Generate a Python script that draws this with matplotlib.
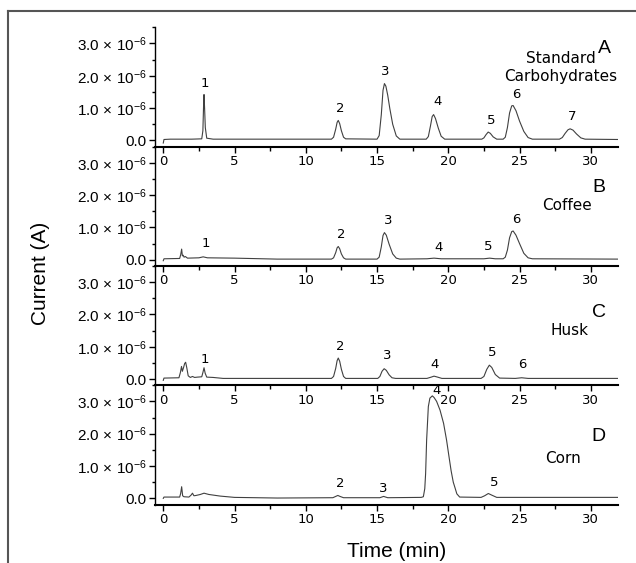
import numpy as np
import matplotlib
matplotlib.use("Agg")
import matplotlib.pyplot as plt
from matplotlib.lines import Line2D
from matplotlib.ticker import FixedLocator, FuncFormatter

plt.rcParams['font.family'] = ['Liberation Sans', 'DejaVu Sans']
plt.rcParams['mathtext.fontset'] = 'custom'
plt.rcParams['mathtext.rm'] = 'Liberation Sans'
plt.rcParams['mathtext.it'] = 'Liberation Sans'

# chromatogram traces, time in min, current in 1e-6 A
t_std = [0.0, 0.05, 0.5, 2.0, 2.7, 2.78, 2.83, 2.86, 2.9, 2.95, 3.05, 3.5, 8.0,
         11.8, 11.95, 12.1, 12.2, 12.28, 12.38, 12.5, 12.65, 12.8,
         15.0, 15.15, 15.3, 15.42, 15.52, 15.62, 15.75, 15.9, 16.1, 16.35, 16.6,
         18.45, 18.6, 18.75, 18.87, 18.97, 19.1, 19.3, 19.5, 19.75,
         22.35, 22.5, 22.65, 22.8, 22.95, 23.15, 23.4,
         23.85, 24.0, 24.15, 24.3, 24.45, 24.55, 24.75, 25.0, 25.3, 25.6, 25.9,
         27.8, 28.0, 28.2, 28.4, 28.55, 28.75, 29.0, 29.3, 29.6, 31.9]
i_std = [-0.08, 0.03, 0.04, 0.04, 0.05, 0.3, 1.1, 1.42, 1.0, 0.4, 0.07, 0.04, 0.04,
         0.04, 0.1, 0.35, 0.56, 0.62, 0.52, 0.3, 0.1, 0.05,
         0.04, 0.15, 0.8, 1.55, 1.76, 1.68, 1.4, 0.98, 0.5, 0.14, 0.04,
         0.04, 0.12, 0.45, 0.74, 0.80, 0.68, 0.38, 0.13, 0.04,
         0.04, 0.08, 0.18, 0.26, 0.22, 0.11, 0.04,
         0.04, 0.1, 0.4, 0.85, 1.07, 1.08, 0.92, 0.6, 0.28, 0.09, 0.04,
         0.04, 0.09, 0.22, 0.33, 0.36, 0.32, 0.2, 0.08, 0.04, 0.03]

t_coffee = [0.0, 0.05, 1.15, 1.22, 1.29, 1.34, 1.4, 1.46, 1.55, 1.7, 2.5, 2.8, 3.1, 5.0, 8.0,
            11.8, 11.95, 12.1, 12.2, 12.28, 12.38, 12.5, 12.65, 12.8,
            15.0, 15.15, 15.3, 15.42, 15.52, 15.65, 15.85, 16.1, 16.35, 16.6,
            18.5, 19.0, 19.5, 22.5, 22.9, 23.3,
            23.85, 24.0, 24.15, 24.3, 24.45, 24.55, 24.75, 25.0, 25.3, 25.6, 25.9, 31.9]
i_coffee = [-0.03, 0.03, 0.04, 0.15, 0.33, 0.12, 0.14, 0.08, 0.1, 0.05, 0.06, 0.09, 0.06, 0.05, 0.02,
            0.02, 0.06, 0.22, 0.37, 0.41, 0.34, 0.18, 0.06, 0.02,
            0.02, 0.08, 0.4, 0.75, 0.84, 0.76, 0.48, 0.18, 0.05, 0.02,
            0.03, 0.05, 0.03, 0.03, 0.05, 0.03,
            0.03, 0.08, 0.3, 0.68, 0.87, 0.89, 0.76, 0.5, 0.2, 0.06, 0.03, 0.02]

t_husk = [0.0, 0.05, 1.1, 1.2, 1.28, 1.34, 1.42, 1.5, 1.57, 1.65, 1.75, 1.9, 2.05, 2.2, 2.4,
          2.7, 2.78, 2.86, 2.94, 3.05, 3.5, 4.2, 8.0,
          11.8, 11.95, 12.1, 12.2, 12.28, 12.38, 12.5, 12.65, 12.8,
          15.05, 15.2, 15.35, 15.5, 15.65, 15.85, 16.05, 16.3,
          18.5, 18.8, 19.0, 19.25, 19.55,
          22.3, 22.5, 22.7, 22.88, 23.05, 23.3, 23.6,
          24.7, 25.15, 25.6, 31.9]
i_husk = [-0.04, 0.03, 0.04, 0.2, 0.39, 0.24, 0.35, 0.48, 0.52, 0.35, 0.1, 0.05, 0.08, 0.05, 0.06,
          0.07, 0.2, 0.35, 0.18, 0.06, 0.05, 0.02, 0.02,
          0.02, 0.08, 0.33, 0.57, 0.65, 0.55, 0.3, 0.08, 0.02,
          0.02, 0.08, 0.24, 0.32, 0.27, 0.13, 0.04, 0.02,
          0.02, 0.06, 0.09, 0.06, 0.02,
          0.02, 0.08, 0.3, 0.43, 0.36, 0.14, 0.03,
          0.02, 0.04, 0.02, 0.02]

t_corn = [0.0, 0.05, 1.15, 1.22, 1.29, 1.36, 1.45, 1.8, 1.95, 2.05, 2.15, 2.3, 2.6, 2.86, 3.2, 4.0, 5.0, 8.0,
          11.9, 12.1, 12.25, 12.4, 12.65, 15.2, 15.46, 15.75,
          18.1, 18.25, 18.35, 18.41, 18.48, 18.6, 18.71, 18.88, 19.0, 19.18, 19.42, 19.67,
          19.88, 20.05, 20.2, 20.35, 20.47, 20.6, 20.8,
          22.3, 22.55, 22.81, 23.05, 23.4, 31.9]
i_corn = [0.0, 0.04, 0.04, 0.15, 0.36, 0.08, 0.05, 0.04, 0.1, 0.16, 0.08, 0.09, 0.12, 0.16, 0.12, 0.07, 0.03, 0.01,
          0.02, 0.06, 0.09, 0.06, 0.02, 0.02, 0.06, 0.02,
          0.03, 0.05, 0.3, 0.77, 1.8, 2.84, 3.1, 3.17, 3.12, 3.0, 2.73, 2.32,
          1.8, 1.29, 0.85, 0.5, 0.33, 0.14, 0.04,
          0.03, 0.08, 0.15, 0.1, 0.03, 0.03]

# peak numbers: (label, time, height in 1e-6 A)
peaks_std = [("1", 2.9, 1.76), ("2", 12.4, 1.0), ("3", 15.6, 2.12), ("4", 19.25, 1.19),
             ("5", 22.99, 0.62), ("6", 24.75, 1.42), ("7", 28.7, 0.75)]
peaks_coffee = [("1", 3.0, 0.49), ("2", 12.47, 0.77), ("3", 15.77, 1.22), ("4", 19.3, 0.39),
                ("5", 22.81, 0.41), ("6", 24.79, 1.24)]
peaks_husk = [("1", 2.93, 0.61), ("2", 12.45, 1.01), ("3", 15.74, 0.72), ("4", 19.07, 0.44),
              ("5", 23.05, 0.82), ("6", 25.22, 0.44)]
peaks_corn = [("2", 12.45, 0.46), ("3", 15.45, 0.31), ("4", 19.19, 3.35), ("5", 23.2, 0.49)]

panels = [
    ("A", t_std, i_std, peaks_std, ["Standard", "Carbohydrates"]),
    ("B", t_coffee, i_coffee, peaks_coffee, ["Coffee"]),
    ("C", t_husk, i_husk, peaks_husk, ["Husk"]),
    ("D", t_corn, i_corn, peaks_corn, ["Corn"]),
]
# where the sample name / letter go (time, height)
name_pos = {"A": [(27.9, 2.54), (27.9, 1.99)], "B": [(28.3, 1.69)],
            "C": [(28.5, 1.5)], "D": [(28.07, 1.24)]}
letter_pos = {"A": (30.95, 2.83), "B": (30.6, 2.22), "C": (30.55, 2.05), "D": (30.55, 1.91)}

W, H = 636, 563
fig = plt.figure(figsize=(W / 100, H / 100), dpi=100)

ax_left, ax_right = 155, 618.3
ax_top, ax_h = 27.3, 119.3


def ylab(v, pos):
    if abs(v) < 1e-12:
        return "0.0"
    return r"$%.1f\,\times\,10^{\mathregular{-6}}$" % (v * 1e6)


for k, (letter, t, cur, peaks, names) in enumerate(panels):
    bottom = ax_top + ax_h * (k + 1)
    ax = fig.add_axes([ax_left / W, 1 - bottom / H, (ax_right - ax_left) / W, ax_h / H])
    ax.patch.set_visible(False)
    ax.plot(t, np.array(cur) * 1e-6, color='#404040', lw=0.8)
    ax.set_xlim(-0.58, 31.93)
    ax.set_ylim(-0.19e-6, 3.5e-6)
    for s in ['top', 'right']:
        ax.spines[s].set_visible(False)
    ax.spines['left'].set_linewidth(1.0)
    ax.spines['bottom'].set_linewidth(1.5)
    ax.xaxis.set_major_locator(FixedLocator([0, 5, 10, 15, 20, 25, 30]))
    ax.xaxis.set_minor_locator(FixedLocator([2.5, 7.5, 12.5, 17.5, 22.5, 27.5]))
    ax.yaxis.set_major_locator(FixedLocator([0, 1e-6, 2e-6, 3e-6]))
    ax.yaxis.set_minor_locator(FixedLocator([0.5e-6, 1.5e-6, 2.5e-6, 3.5e-6]))
    ax.yaxis.set_major_formatter(FuncFormatter(ylab))
    ax.tick_params(axis='x', which='major', length=4.5, width=1.0, pad=1.5,
                   labelsize=9.5, labelfontfamily='DejaVu Sans')
    ax.tick_params(axis='x', which='minor', length=3, width=1.0)
    ax.tick_params(axis='y', which='major', length=4, width=1.0, pad=2, labelsize=11)
    ax.tick_params(axis='y', which='minor', length=2.5, width=1.0)
    for lab, x, y in peaks:
        ax.text(x, y * 1e-6, lab, ha='center', va='center', fontsize=9.5,
                family='DejaVu Sans', clip_on=False)
    for nm, (x, y) in zip(names, name_pos[letter]):
        ax.text(x, y * 1e-6, nm, ha='center', va='center', fontsize=11, family='DejaVu Sans')
    lx, ly = letter_pos[letter]
    ax.text(lx, ly * 1e-6, letter, ha='center', va='center', fontsize=14)

fig.text(40 / W, 1 - 273 / H, "Current (A)", rotation=90, ha='center', va='center', fontsize=15)
fig.text(397 / W, 1 - 551.7 / H, "Time (min)", ha='center', va='center', fontsize=15)

# outer frame of the figure panel
fig.add_artist(Line2D([8 / W, 1.0], [1 - 11 / H, 1 - 11 / H], color='#555555', lw=1.5))
fig.add_artist(Line2D([8 / W, 8 / W], [1 - 11 / H, 0.0], color='#555555', lw=1.5))

fig.savefig("out.png", dpi=100)
